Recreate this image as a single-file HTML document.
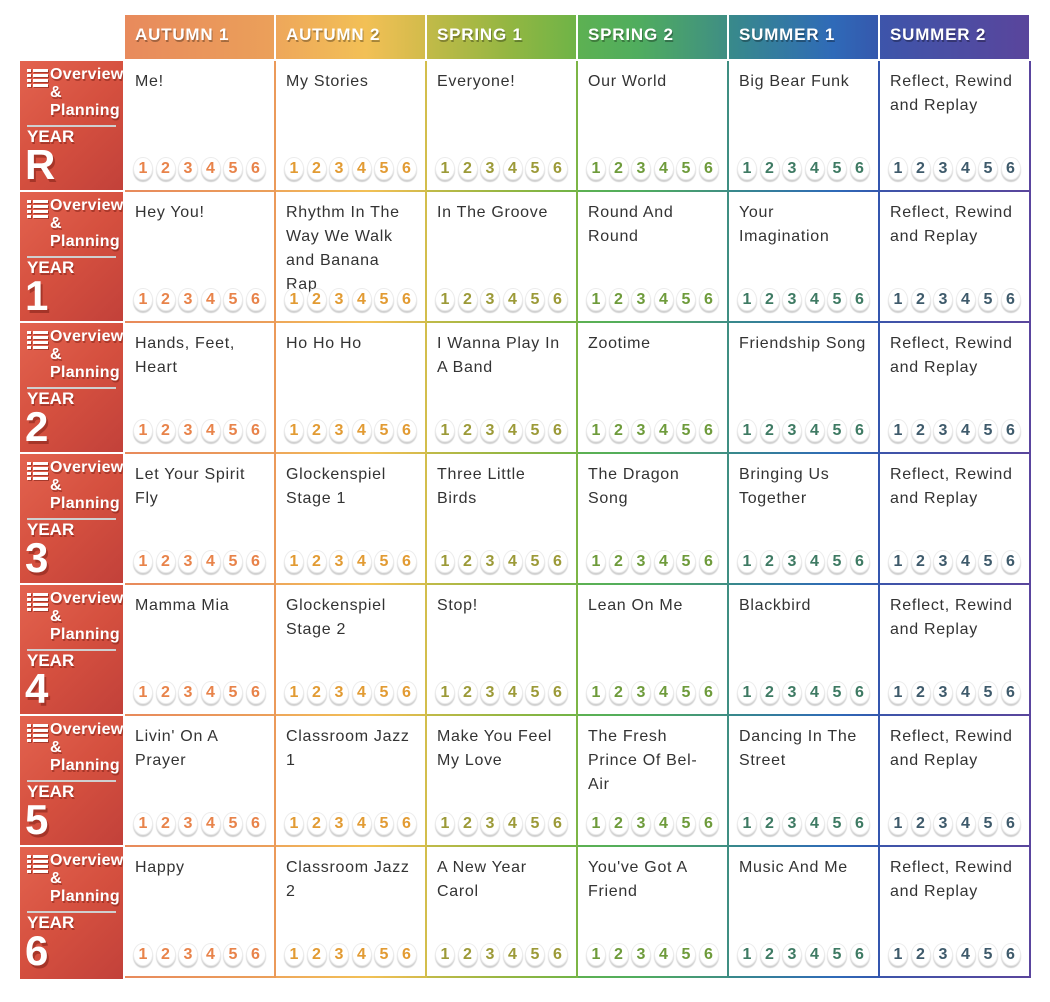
<!DOCTYPE html>
<html><head><meta charset="utf-8">
<style>
*{box-sizing:border-box;margin:0;padding:0}
html,body{width:1050px;height:1002px;background:#fff;overflow:hidden}
body{position:relative;font-family:"Liberation Sans",sans-serif}
.h{position:absolute;top:15px;height:44px;width:149px;color:#fff;font-weight:bold;font-size:17px;letter-spacing:0.8px;line-height:40px;padding-left:10px;text-shadow:1px 2px 0 rgba(0,0,0,0.3);white-space:nowrap}
.p{position:absolute;left:20px;width:103px;height:129px;background:linear-gradient(135deg,#e3634f 0%,#d5503f 50%,#c2413a 100%);overflow:hidden;color:#fff;font-weight:bold}
.p .ic{position:absolute;left:7px;top:8px;width:21px;height:20px}
.p .ic i{position:absolute;left:0;height:3px;background:#fff;box-shadow:1px 1px 0 rgba(110,25,15,.5)}
.p .ov{position:absolute;left:30px;top:5px;font-size:16px;line-height:18px;letter-spacing:0.3px;white-space:nowrap;text-shadow:1px 2px 0 rgba(110,25,15,.45)}
.p .ln{position:absolute;left:7px;top:64px;width:89px;height:2px;background:#cfcfcf}
.p .yr{position:absolute;left:7px;top:67px;font-size:17px;line-height:17px;text-shadow:1px 2px 0 rgba(110,25,15,.45)}
.p .big{position:absolute;left:5px;top:83px;font-size:42px;line-height:42px;text-shadow:2px 3px 0 rgba(110,25,15,.45)}
.c{position:absolute;width:151px;height:131px}
.c .t{position:absolute;left:10px;top:9px;font-size:16px;line-height:24px;letter-spacing:0.7px;color:#333;white-space:nowrap}
.c .vb{position:absolute;left:149px;top:0;width:2px;height:131px;z-index:2}
.c .hb{position:absolute;left:0;top:129px;width:151px;height:2px}
.c .n{position:absolute;left:8px;top:96px;white-space:nowrap;font-size:0;z-index:1}
.c .n span{display:inline-block;width:20px;height:23px;margin-right:2.5px;background:#fff;border:1px solid #ececec;border-radius:10px/12px;box-shadow:0 2px 1px #d0d0d0;font-size:16px;font-weight:bold;line-height:22px;text-align:center;vertical-align:top}
.k1 .n span{color:#e8834a}.k1 .vb{background:#eb9a5a}.k1 .hb{background:linear-gradient(90deg,#e88a5c,#eba05a)}
.k2 .n span{color:#e29b33}.k2 .vb{background:#d3be4c}.k2 .hb{background:linear-gradient(90deg,#eea75b,#f2c056 60%,#d2bb4b)}
.k3 .n span{color:#9c9a38}.k3 .vb{background:#7cb546}.k3 .hb{background:linear-gradient(90deg,#c2ba48,#93b642 55%,#6fb447)}
.k4 .n span{color:#6e9b3b}.k4 .vb{background:#3f8e82}.k4 .hb{background:linear-gradient(90deg,#5db152,#50ad5e 40%,#3f8e84)}
.k5 .n span{color:#3e7a63}.k5 .vb{background:#3456ae}.k5 .hb{background:linear-gradient(90deg,#388a8a,#2f6ab8 70%,#3558ad)}
.k6 .n span{color:#3e5a6b}.k6 .vb{background:#5a459e}.k6 .hb{background:linear-gradient(90deg,#3d55aa,#5a459c)}
</style></head><body>

<div class="h" style="left:125px;background:linear-gradient(90deg,#e88a5c,#eba05a)">AUTUMN 1</div>
<div class="h" style="left:276px;background:linear-gradient(90deg,#eea75b,#f2c056 60%,#d2bb4b)">AUTUMN 2</div>
<div class="h" style="left:427px;background:linear-gradient(90deg,#c2ba48,#93b642 55%,#6fb447)">SPRING 1</div>
<div class="h" style="left:578px;background:linear-gradient(90deg,#5db152,#50ad5e 40%,#3f8e84)">SPRING 2</div>
<div class="h" style="left:729px;background:linear-gradient(90deg,#388a8a,#2f6ab8 70%,#3558ad)">SUMMER 1</div>
<div class="h" style="left:880px;background:linear-gradient(90deg,#3d55aa,#5a459c)">SUMMER 2</div>

<!-- Panels -->
<div class="p" style="top:61px"><div class="ic"><i style="top:0;width:4px"></i><i style="top:0;left:6px;width:15px"></i><i style="top:5px;width:4px"></i><i style="top:5px;left:6px;width:15px"></i><i style="top:10px;width:4px"></i><i style="top:10px;left:6px;width:15px"></i><i style="top:15px;width:4px"></i><i style="top:15px;left:6px;width:15px"></i></div><div class="ov">Overview<br>&amp;<br>Planning</div><div class="ln"></div><div class="yr">YEAR</div><div class="big">R</div></div>
<div class="p" style="top:192px"><div class="ic"><i style="top:0;width:4px"></i><i style="top:0;left:6px;width:15px"></i><i style="top:5px;width:4px"></i><i style="top:5px;left:6px;width:15px"></i><i style="top:10px;width:4px"></i><i style="top:10px;left:6px;width:15px"></i><i style="top:15px;width:4px"></i><i style="top:15px;left:6px;width:15px"></i></div><div class="ov">Overview<br>&amp;<br>Planning</div><div class="ln"></div><div class="yr">YEAR</div><div class="big">1</div></div>
<div class="p" style="top:323px"><div class="ic"><i style="top:0;width:4px"></i><i style="top:0;left:6px;width:15px"></i><i style="top:5px;width:4px"></i><i style="top:5px;left:6px;width:15px"></i><i style="top:10px;width:4px"></i><i style="top:10px;left:6px;width:15px"></i><i style="top:15px;width:4px"></i><i style="top:15px;left:6px;width:15px"></i></div><div class="ov">Overview<br>&amp;<br>Planning</div><div class="ln"></div><div class="yr">YEAR</div><div class="big">2</div></div>
<div class="p" style="top:454px"><div class="ic"><i style="top:0;width:4px"></i><i style="top:0;left:6px;width:15px"></i><i style="top:5px;width:4px"></i><i style="top:5px;left:6px;width:15px"></i><i style="top:10px;width:4px"></i><i style="top:10px;left:6px;width:15px"></i><i style="top:15px;width:4px"></i><i style="top:15px;left:6px;width:15px"></i></div><div class="ov">Overview<br>&amp;<br>Planning</div><div class="ln"></div><div class="yr">YEAR</div><div class="big">3</div></div>
<div class="p" style="top:585px"><div class="ic"><i style="top:0;width:4px"></i><i style="top:0;left:6px;width:15px"></i><i style="top:5px;width:4px"></i><i style="top:5px;left:6px;width:15px"></i><i style="top:10px;width:4px"></i><i style="top:10px;left:6px;width:15px"></i><i style="top:15px;width:4px"></i><i style="top:15px;left:6px;width:15px"></i></div><div class="ov">Overview<br>&amp;<br>Planning</div><div class="ln"></div><div class="yr">YEAR</div><div class="big">4</div></div>
<div class="p" style="top:716px"><div class="ic"><i style="top:0;width:4px"></i><i style="top:0;left:6px;width:15px"></i><i style="top:5px;width:4px"></i><i style="top:5px;left:6px;width:15px"></i><i style="top:10px;width:4px"></i><i style="top:10px;left:6px;width:15px"></i><i style="top:15px;width:4px"></i><i style="top:15px;left:6px;width:15px"></i></div><div class="ov">Overview<br>&amp;<br>Planning</div><div class="ln"></div><div class="yr">YEAR</div><div class="big">5</div></div>
<div class="p" style="top:847px;height:132px"><div class="ic"><i style="top:0;width:4px"></i><i style="top:0;left:6px;width:15px"></i><i style="top:5px;width:4px"></i><i style="top:5px;left:6px;width:15px"></i><i style="top:10px;width:4px"></i><i style="top:10px;left:6px;width:15px"></i><i style="top:15px;width:4px"></i><i style="top:15px;left:6px;width:15px"></i></div><div class="ov">Overview<br>&amp;<br>Planning</div><div class="ln"></div><div class="yr">YEAR</div><div class="big">6</div></div>

<!-- Row R -->
<div class="c k1" style="left:125px;top:61px"><div class="t">Me!</div><div class="n"><span>1</span><span>2</span><span>3</span><span>4</span><span>5</span><span>6</span></div><div class="hb"></div><div class="vb"></div></div>
<div class="c k2" style="left:276px;top:61px"><div class="t">My Stories</div><div class="n"><span>1</span><span>2</span><span>3</span><span>4</span><span>5</span><span>6</span></div><div class="hb"></div><div class="vb"></div></div>
<div class="c k3" style="left:427px;top:61px"><div class="t">Everyone!</div><div class="n"><span>1</span><span>2</span><span>3</span><span>4</span><span>5</span><span>6</span></div><div class="hb"></div><div class="vb"></div></div>
<div class="c k4" style="left:578px;top:61px"><div class="t">Our World</div><div class="n"><span>1</span><span>2</span><span>3</span><span>4</span><span>5</span><span>6</span></div><div class="hb"></div><div class="vb"></div></div>
<div class="c k5" style="left:729px;top:61px"><div class="t">Big Bear Funk</div><div class="n"><span>1</span><span>2</span><span>3</span><span>4</span><span>5</span><span>6</span></div><div class="hb"></div><div class="vb"></div></div>
<div class="c k6" style="left:880px;top:61px"><div class="t">Reflect, Rewind<br>and Replay</div><div class="n"><span>1</span><span>2</span><span>3</span><span>4</span><span>5</span><span>6</span></div><div class="hb"></div><div class="vb"></div></div>

<!-- Row 1 -->
<div class="c k1" style="left:125px;top:192px"><div class="t">Hey You!</div><div class="n"><span>1</span><span>2</span><span>3</span><span>4</span><span>5</span><span>6</span></div><div class="hb"></div><div class="vb"></div></div>
<div class="c k2" style="left:276px;top:192px"><div class="t">Rhythm In The<br>Way We Walk<br>and Banana<br>Rap</div><div class="n"><span>1</span><span>2</span><span>3</span><span>4</span><span>5</span><span>6</span></div><div class="hb"></div><div class="vb"></div></div>
<div class="c k3" style="left:427px;top:192px"><div class="t">In The Groove</div><div class="n"><span>1</span><span>2</span><span>3</span><span>4</span><span>5</span><span>6</span></div><div class="hb"></div><div class="vb"></div></div>
<div class="c k4" style="left:578px;top:192px"><div class="t">Round And<br>Round</div><div class="n"><span>1</span><span>2</span><span>3</span><span>4</span><span>5</span><span>6</span></div><div class="hb"></div><div class="vb"></div></div>
<div class="c k5" style="left:729px;top:192px"><div class="t">Your<br>Imagination</div><div class="n"><span>1</span><span>2</span><span>3</span><span>4</span><span>5</span><span>6</span></div><div class="hb"></div><div class="vb"></div></div>
<div class="c k6" style="left:880px;top:192px"><div class="t">Reflect, Rewind<br>and Replay</div><div class="n"><span>1</span><span>2</span><span>3</span><span>4</span><span>5</span><span>6</span></div><div class="hb"></div><div class="vb"></div></div>

<!-- Row 2 -->
<div class="c k1" style="left:125px;top:323px"><div class="t">Hands, Feet,<br>Heart</div><div class="n"><span>1</span><span>2</span><span>3</span><span>4</span><span>5</span><span>6</span></div><div class="hb"></div><div class="vb"></div></div>
<div class="c k2" style="left:276px;top:323px"><div class="t">Ho Ho Ho</div><div class="n"><span>1</span><span>2</span><span>3</span><span>4</span><span>5</span><span>6</span></div><div class="hb"></div><div class="vb"></div></div>
<div class="c k3" style="left:427px;top:323px"><div class="t">I Wanna Play In<br>A Band</div><div class="n"><span>1</span><span>2</span><span>3</span><span>4</span><span>5</span><span>6</span></div><div class="hb"></div><div class="vb"></div></div>
<div class="c k4" style="left:578px;top:323px"><div class="t">Zootime</div><div class="n"><span>1</span><span>2</span><span>3</span><span>4</span><span>5</span><span>6</span></div><div class="hb"></div><div class="vb"></div></div>
<div class="c k5" style="left:729px;top:323px"><div class="t">Friendship Song</div><div class="n"><span>1</span><span>2</span><span>3</span><span>4</span><span>5</span><span>6</span></div><div class="hb"></div><div class="vb"></div></div>
<div class="c k6" style="left:880px;top:323px"><div class="t">Reflect, Rewind<br>and Replay</div><div class="n"><span>1</span><span>2</span><span>3</span><span>4</span><span>5</span><span>6</span></div><div class="hb"></div><div class="vb"></div></div>

<!-- Row 3 -->
<div class="c k1" style="left:125px;top:454px"><div class="t">Let Your Spirit<br>Fly</div><div class="n"><span>1</span><span>2</span><span>3</span><span>4</span><span>5</span><span>6</span></div><div class="hb"></div><div class="vb"></div></div>
<div class="c k2" style="left:276px;top:454px"><div class="t">Glockenspiel<br>Stage 1</div><div class="n"><span>1</span><span>2</span><span>3</span><span>4</span><span>5</span><span>6</span></div><div class="hb"></div><div class="vb"></div></div>
<div class="c k3" style="left:427px;top:454px"><div class="t">Three Little<br>Birds</div><div class="n"><span>1</span><span>2</span><span>3</span><span>4</span><span>5</span><span>6</span></div><div class="hb"></div><div class="vb"></div></div>
<div class="c k4" style="left:578px;top:454px"><div class="t">The Dragon<br>Song</div><div class="n"><span>1</span><span>2</span><span>3</span><span>4</span><span>5</span><span>6</span></div><div class="hb"></div><div class="vb"></div></div>
<div class="c k5" style="left:729px;top:454px"><div class="t">Bringing Us<br>Together</div><div class="n"><span>1</span><span>2</span><span>3</span><span>4</span><span>5</span><span>6</span></div><div class="hb"></div><div class="vb"></div></div>
<div class="c k6" style="left:880px;top:454px"><div class="t">Reflect, Rewind<br>and Replay</div><div class="n"><span>1</span><span>2</span><span>3</span><span>4</span><span>5</span><span>6</span></div><div class="hb"></div><div class="vb"></div></div>

<!-- Row 4 -->
<div class="c k1" style="left:125px;top:585px"><div class="t">Mamma Mia</div><div class="n"><span>1</span><span>2</span><span>3</span><span>4</span><span>5</span><span>6</span></div><div class="hb"></div><div class="vb"></div></div>
<div class="c k2" style="left:276px;top:585px"><div class="t">Glockenspiel<br>Stage 2</div><div class="n"><span>1</span><span>2</span><span>3</span><span>4</span><span>5</span><span>6</span></div><div class="hb"></div><div class="vb"></div></div>
<div class="c k3" style="left:427px;top:585px"><div class="t">Stop!</div><div class="n"><span>1</span><span>2</span><span>3</span><span>4</span><span>5</span><span>6</span></div><div class="hb"></div><div class="vb"></div></div>
<div class="c k4" style="left:578px;top:585px"><div class="t">Lean On Me</div><div class="n"><span>1</span><span>2</span><span>3</span><span>4</span><span>5</span><span>6</span></div><div class="hb"></div><div class="vb"></div></div>
<div class="c k5" style="left:729px;top:585px"><div class="t">Blackbird</div><div class="n"><span>1</span><span>2</span><span>3</span><span>4</span><span>5</span><span>6</span></div><div class="hb"></div><div class="vb"></div></div>
<div class="c k6" style="left:880px;top:585px"><div class="t">Reflect, Rewind<br>and Replay</div><div class="n"><span>1</span><span>2</span><span>3</span><span>4</span><span>5</span><span>6</span></div><div class="hb"></div><div class="vb"></div></div>

<!-- Row 5 -->
<div class="c k1" style="left:125px;top:716px"><div class="t">Livin' On A<br>Prayer</div><div class="n"><span>1</span><span>2</span><span>3</span><span>4</span><span>5</span><span>6</span></div><div class="hb"></div><div class="vb"></div></div>
<div class="c k2" style="left:276px;top:716px"><div class="t">Classroom Jazz<br>1</div><div class="n"><span>1</span><span>2</span><span>3</span><span>4</span><span>5</span><span>6</span></div><div class="hb"></div><div class="vb"></div></div>
<div class="c k3" style="left:427px;top:716px"><div class="t">Make You Feel<br>My Love</div><div class="n"><span>1</span><span>2</span><span>3</span><span>4</span><span>5</span><span>6</span></div><div class="hb"></div><div class="vb"></div></div>
<div class="c k4" style="left:578px;top:716px"><div class="t">The Fresh<br>Prince Of Bel-<br>Air</div><div class="n"><span>1</span><span>2</span><span>3</span><span>4</span><span>5</span><span>6</span></div><div class="hb"></div><div class="vb"></div></div>
<div class="c k5" style="left:729px;top:716px"><div class="t">Dancing In The<br>Street</div><div class="n"><span>1</span><span>2</span><span>3</span><span>4</span><span>5</span><span>6</span></div><div class="hb"></div><div class="vb"></div></div>
<div class="c k6" style="left:880px;top:716px"><div class="t">Reflect, Rewind<br>and Replay</div><div class="n"><span>1</span><span>2</span><span>3</span><span>4</span><span>5</span><span>6</span></div><div class="hb"></div><div class="vb"></div></div>

<!-- Row 6 -->
<div class="c k1" style="left:125px;top:847px"><div class="t">Happy</div><div class="n"><span>1</span><span>2</span><span>3</span><span>4</span><span>5</span><span>6</span></div><div class="hb"></div><div class="vb"></div></div>
<div class="c k2" style="left:276px;top:847px"><div class="t">Classroom Jazz<br>2</div><div class="n"><span>1</span><span>2</span><span>3</span><span>4</span><span>5</span><span>6</span></div><div class="hb"></div><div class="vb"></div></div>
<div class="c k3" style="left:427px;top:847px"><div class="t">A New Year<br>Carol</div><div class="n"><span>1</span><span>2</span><span>3</span><span>4</span><span>5</span><span>6</span></div><div class="hb"></div><div class="vb"></div></div>
<div class="c k4" style="left:578px;top:847px"><div class="t">You've Got A<br>Friend</div><div class="n"><span>1</span><span>2</span><span>3</span><span>4</span><span>5</span><span>6</span></div><div class="hb"></div><div class="vb"></div></div>
<div class="c k5" style="left:729px;top:847px"><div class="t">Music And Me</div><div class="n"><span>1</span><span>2</span><span>3</span><span>4</span><span>5</span><span>6</span></div><div class="hb"></div><div class="vb"></div></div>
<div class="c k6" style="left:880px;top:847px"><div class="t">Reflect, Rewind<br>and Replay</div><div class="n"><span>1</span><span>2</span><span>3</span><span>4</span><span>5</span><span>6</span></div><div class="hb"></div><div class="vb"></div></div>

</body></html>
